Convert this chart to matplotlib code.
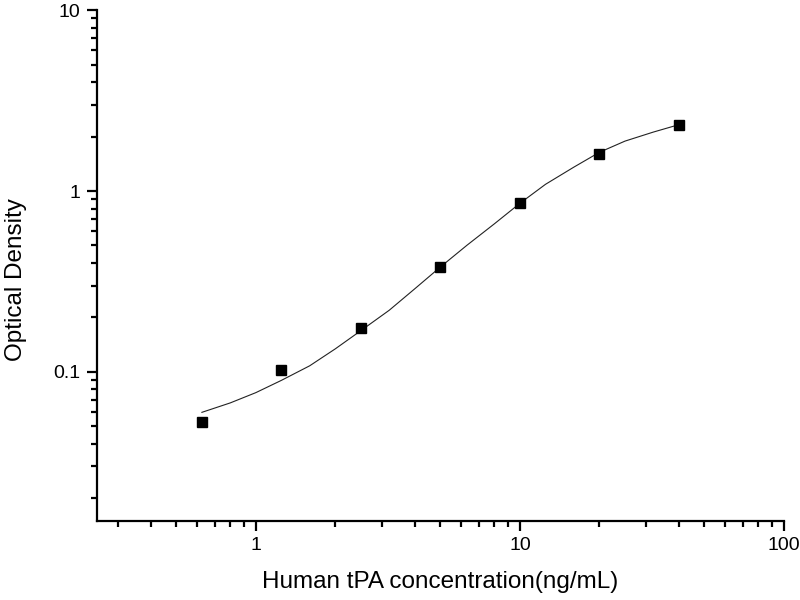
import matplotlib
matplotlib.use("Agg")
import matplotlib.pyplot as plt
from matplotlib.ticker import LogLocator, NullFormatter, FixedLocator, FixedFormatter

plt.rcParams["font.family"] = ["Liberation Sans", "DejaVu Sans"]

# standards (ng/mL) and measured OD
conc = [0.625, 1.25, 2.5, 5, 10, 20, 40]
od = [0.0527, 0.103, 0.174, 0.380, 0.863, 1.61, 2.33]

# fitted curve
fit_x = [0.625, 0.8, 1.0, 1.25, 1.6, 2.0, 2.5, 3.2, 4.0, 5.0, 6.3, 8.0,
         10, 12.5, 16, 20, 25, 32, 40]
fit_y = [0.0597, 0.0673, 0.0767, 0.0897, 0.108, 0.134, 0.169, 0.219, 0.288, 0.380, 0.501, 0.658,
         0.855, 1.089, 1.355, 1.637, 1.888, 2.118, 2.328]

x_ticks = [1, 10, 100]
x_tick_labels = ["1", "10", "100"]
y_ticks = [0.1, 1, 10]
y_tick_labels = ["0.1", "1", "10"]

fig = plt.figure(figsize=(8, 6), dpi=100)
ax = fig.add_axes([0.121, 0.132, 0.859, 0.851])

ax.plot(fit_x, fit_y, color="#222222", linewidth=0.8)
ax.plot(conc, od, linestyle="none", marker="s", markersize=7, color="black")

ax.set_xscale("log")
ax.set_yscale("log")
ax.set_xlim(0.25, 100)
ax.set_ylim(0.015, 10)

ax.xaxis.set_major_locator(FixedLocator(x_ticks))
ax.xaxis.set_major_formatter(FixedFormatter(x_tick_labels))
ax.yaxis.set_major_locator(FixedLocator(y_ticks))
ax.yaxis.set_major_formatter(FixedFormatter(y_tick_labels))
ax.xaxis.set_minor_locator(LogLocator(base=10, subs=range(2, 10)))
ax.yaxis.set_minor_locator(LogLocator(base=10, subs=range(2, 10)))
ax.xaxis.set_minor_formatter(NullFormatter())
ax.yaxis.set_minor_formatter(NullFormatter())

for side in ["top", "right"]:
    ax.spines[side].set_visible(False)
for side in ["left", "bottom"]:
    ax.spines[side].set_linewidth(1.6)

ax.tick_params(which="major", direction="out", length=7, width=1.6, labelsize=14, pad=5)
ax.tick_params(which="minor", direction="out", length=4, width=1.6)

ax.set_xlabel("Human tPA concentration(ng/mL)", fontsize=17.5, labelpad=12)
ax.set_ylabel("Optical Density", fontsize=17.5, labelpad=19, y=0.472)

fig.savefig("out.png", dpi=100, facecolor="white")
